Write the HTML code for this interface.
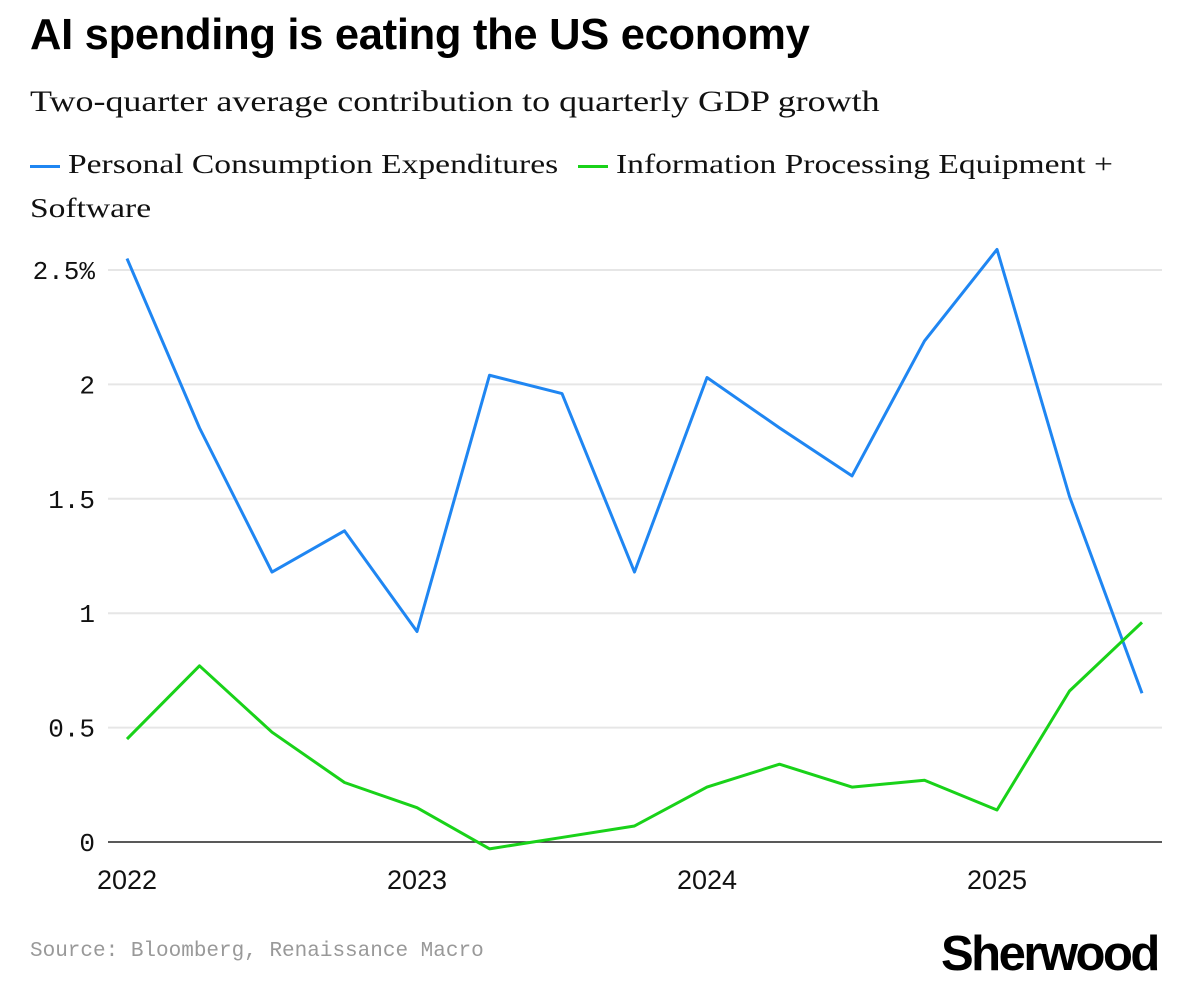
<!DOCTYPE html>
<html><head><meta charset="utf-8"><style>
body{margin:0;background:#fff;width:1182px;height:994px;overflow:hidden;position:relative;font-family:"Liberation Sans",sans-serif}
.t{position:absolute;white-space:nowrap}
.sx{transform-origin:0 0;transform:scaleX(1.22)}
</style></head><body>
<div class="t" style="left:30px;top:11px;font-size:43.5px;font-weight:bold;color:#000;letter-spacing:-0.3px">AI spending is eating the US economy</div>
<div class="t sx" style="left:30px;top:86px;font-family:'Liberation Serif',serif;font-size:29.5px;color:#111">Two-quarter average contribution to quarterly GDP growth</div>
<div class="t" style="left:30px;top:148px;font-family:'Liberation Serif',serif;font-size:27.5px;color:#111"><span style="display:inline-block;width:30px;height:3px;background:#1f86f2;vertical-align:middle;margin-right:8px"></span><span class="sx" style="display:inline-block">Personal Consumption Expenditures</span></div>
<div class="t" style="left:578px;top:148px;font-family:'Liberation Serif',serif;font-size:27.5px;color:#111"><span style="display:inline-block;width:30px;height:3px;background:#19d219;vertical-align:middle;margin-right:8px"></span><span class="sx" style="display:inline-block">Information Processing Equipment +</span></div>
<div class="t sx" style="left:30px;top:192px;font-family:'Liberation Serif',serif;font-size:27.5px;color:#111">Software</div>
<svg id="chart" width="1182" height="994" style="position:absolute;left:0;top:0"></svg>
<div class="t" style="left:30px;top:940px;font-family:'Liberation Mono',monospace;font-size:21px;color:#999">Source: Bloomberg, Renaissance Macro</div>
<div class="t" style="left:941px;top:926px;font-size:49px;font-weight:bold;color:#000;letter-spacing:-2.5px">Sherwood</div>
<script>
const quarters=["2022Q1","2022Q2","2022Q3","2022Q4","2023Q1","2023Q2","2023Q3","2023Q4","2024Q1","2024Q2","2024Q3","2024Q4","2025Q1","2025Q2","2025Q3"];
const pce=[2.55,1.81,1.18,1.36,0.92,2.04,1.96,1.18,2.03,1.81,1.60,2.19,2.59,1.51,0.65];
const ipe=[0.45,0.77,0.48,0.26,0.15,-0.03,0.02,0.07,0.24,0.34,0.24,0.27,0.14,0.66,0.96];
const yTicks=[0,0.5,1,1.5,2,2.5];
const yLabels=["0","0.5","1","1.5","2","2.5%"];
const xLabels=["2022","2023","2024","2025"];
const NS="http://www.w3.org/2000/svg",svg=document.getElementById('chart');
const x=i=>127+i*72.5, y=v=>842-v*228.8;
function mk(t,a){const e=document.createElementNS(NS,t);for(const k in a)e.setAttribute(k,a[k]);svg.appendChild(e);return e;}
yTicks.forEach((v,i)=>{
 const l=mk('line',{x1:108,x2:1162,y1:y(v),y2:y(v),stroke:v===0?'#222':'#e6e6e6','stroke-width':v===0?1.5:2});
 
 
 const t=mk('text',{x:95,y:y(v)+9,'text-anchor':'end','font-family':'Liberation Mono, monospace','font-size':26,fill:'#111'});
 t.textContent=yLabels[i];
 
 
});
xLabels.forEach((s,i)=>{
 const t=mk('text',{x:x(i*4),y:889,'text-anchor':'middle','font-family':'Liberation Sans, sans-serif','font-size':27,fill:'#111'});
 t.textContent=s;
 
 
});
[[pce,'#1f86f2','pce-line'],[ipe,'#19d219','ipe-line']].forEach(([d,c,n])=>{
 const p=mk('polyline',{points:d.map((v,i)=>x(i)+','+y(v)).join(' '),fill:'none',stroke:c,'stroke-width':3,'stroke-linejoin':'round'});
 
 
});
</script>
</body></html>
